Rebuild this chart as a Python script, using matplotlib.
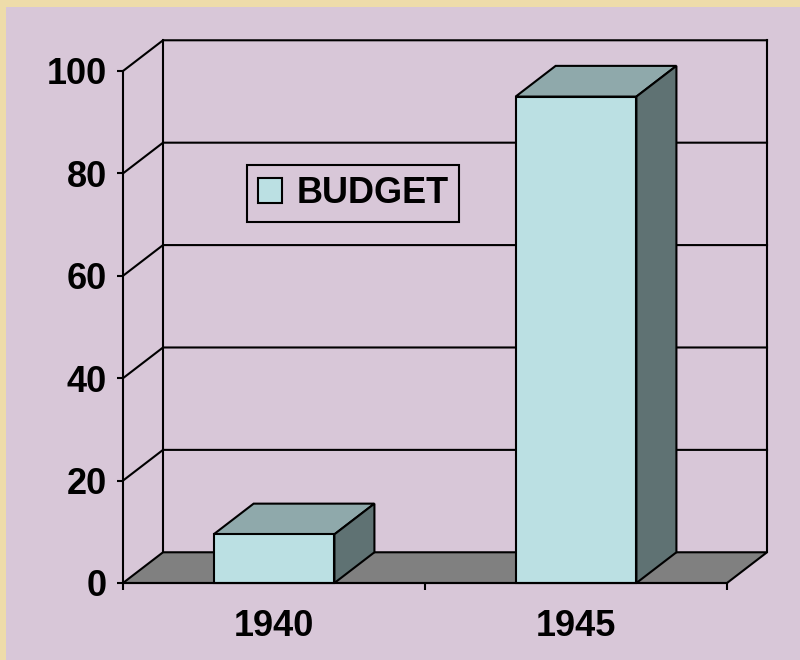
import matplotlib.pyplot as plt
from matplotlib.patches import Polygon, Rectangle

# data
years = ['1940', '1945']
budget = [9.5, 95]
yticks = [0, 20, 40, 60, 80, 100]
series_name = 'BUDGET'

# colours
parchment = '#EEDCAA'
lavender = '#D8C7D8'
floor_col = '#808080'
front_col = '#BBE0E3'
top_col = '#8FA9AB'
side_col = '#5F7273'

# depth offset of the fake 3d box (category units, value units)
dx, dy = 0.1325, 6.0
bar_w = 0.4
lw = 1.5

plt.rcParams['font.family'] = ['Liberation Sans', 'DejaVu Sans']
plt.rcParams['font.weight'] = 'bold'

fig = plt.figure(figsize=(8, 6.6), dpi=100, facecolor=parchment)
fig.patches.append(Rectangle((6 / 800, 0), 1, 653 / 660, transform=fig.transFigure,
                             facecolor=lavender, edgecolor='none', zorder=-10))

ax = fig.add_axes([123 / 800, 77 / 660, 604 / 800, 512 / 660])
ax.set_facecolor('none')
n = len(years)
ax.set_xlim(0, n)
ax.set_ylim(0, 100)

# floor
ax.add_patch(Polygon([(0, 0), (n, 0), (n + dx, dy), (dx, dy)], closed=True,
                     facecolor=floor_col, edgecolor='black', lw=lw, clip_on=False, zorder=1))

# side wall and back wall grid lines
for v in yticks:
    if v == 0:
        continue
    ax.plot([0, dx, n + dx], [v, v + dy, v + dy], color='black', lw=lw,
            clip_on=False, zorder=1, solid_capstyle='projecting')
ax.plot([dx, dx], [dy, 100 + dy], color='black', lw=lw, clip_on=False, zorder=1)
ax.plot([n + dx, n + dx], [dy, 100 + dy], color='black', lw=lw, clip_on=False, zorder=1)

# boxes
for i, h in enumerate(budget):
    x0 = i + 0.5 - bar_w / 2
    x1 = x0 + bar_w
    ax.add_patch(Polygon([(x0, h), (x1, h), (x1 + dx, h + dy), (x0 + dx, h + dy)],
                         facecolor=top_col, edgecolor='black', lw=lw, clip_on=False, zorder=3))
    ax.add_patch(Polygon([(x1, 0), (x1 + dx, dy), (x1 + dx, h + dy), (x1, h)],
                         facecolor=side_col, edgecolor='black', lw=lw, clip_on=False, zorder=3))
    ax.add_patch(Rectangle((x0, 0), bar_w, h, facecolor=front_col, edgecolor='black',
                           lw=lw, clip_on=False, zorder=3, label=series_name if i == 0 else None))

for s in ['top', 'right']:
    ax.spines[s].set_visible(False)
for s in ['left', 'bottom']:
    ax.spines[s].set_linewidth(lw)
    ax.spines[s].set_zorder(4)

ax.set_yticks(yticks)
ax.tick_params(axis='y', direction='out', length=4.5, width=lw, pad=7, labelsize=26)
ax.set_xticks(range(n + 1))
ax.set_xticklabels([])
ax.tick_params(axis='x', which='major', direction='out', length=5, width=lw)
ax.set_xticks([i + 0.5 for i in range(n)], minor=True)
ax.set_xticklabels(years, minor=True)
ax.tick_params(axis='x', which='minor', length=0, pad=19, labelsize=26)

leg = ax.legend(loc='upper left', bbox_to_anchor=(0.205, 0.816), fontsize=26,
                frameon=True, fancybox=False, edgecolor='black', facecolor=lavender,
                framealpha=1, handlelength=0.67, handleheight=0.67, handletextpad=0.4,
                borderpad=0.3, borderaxespad=0)
leg.get_frame().set_linewidth(lw)

fig.savefig('out.png', dpi=100, facecolor=parchment)
